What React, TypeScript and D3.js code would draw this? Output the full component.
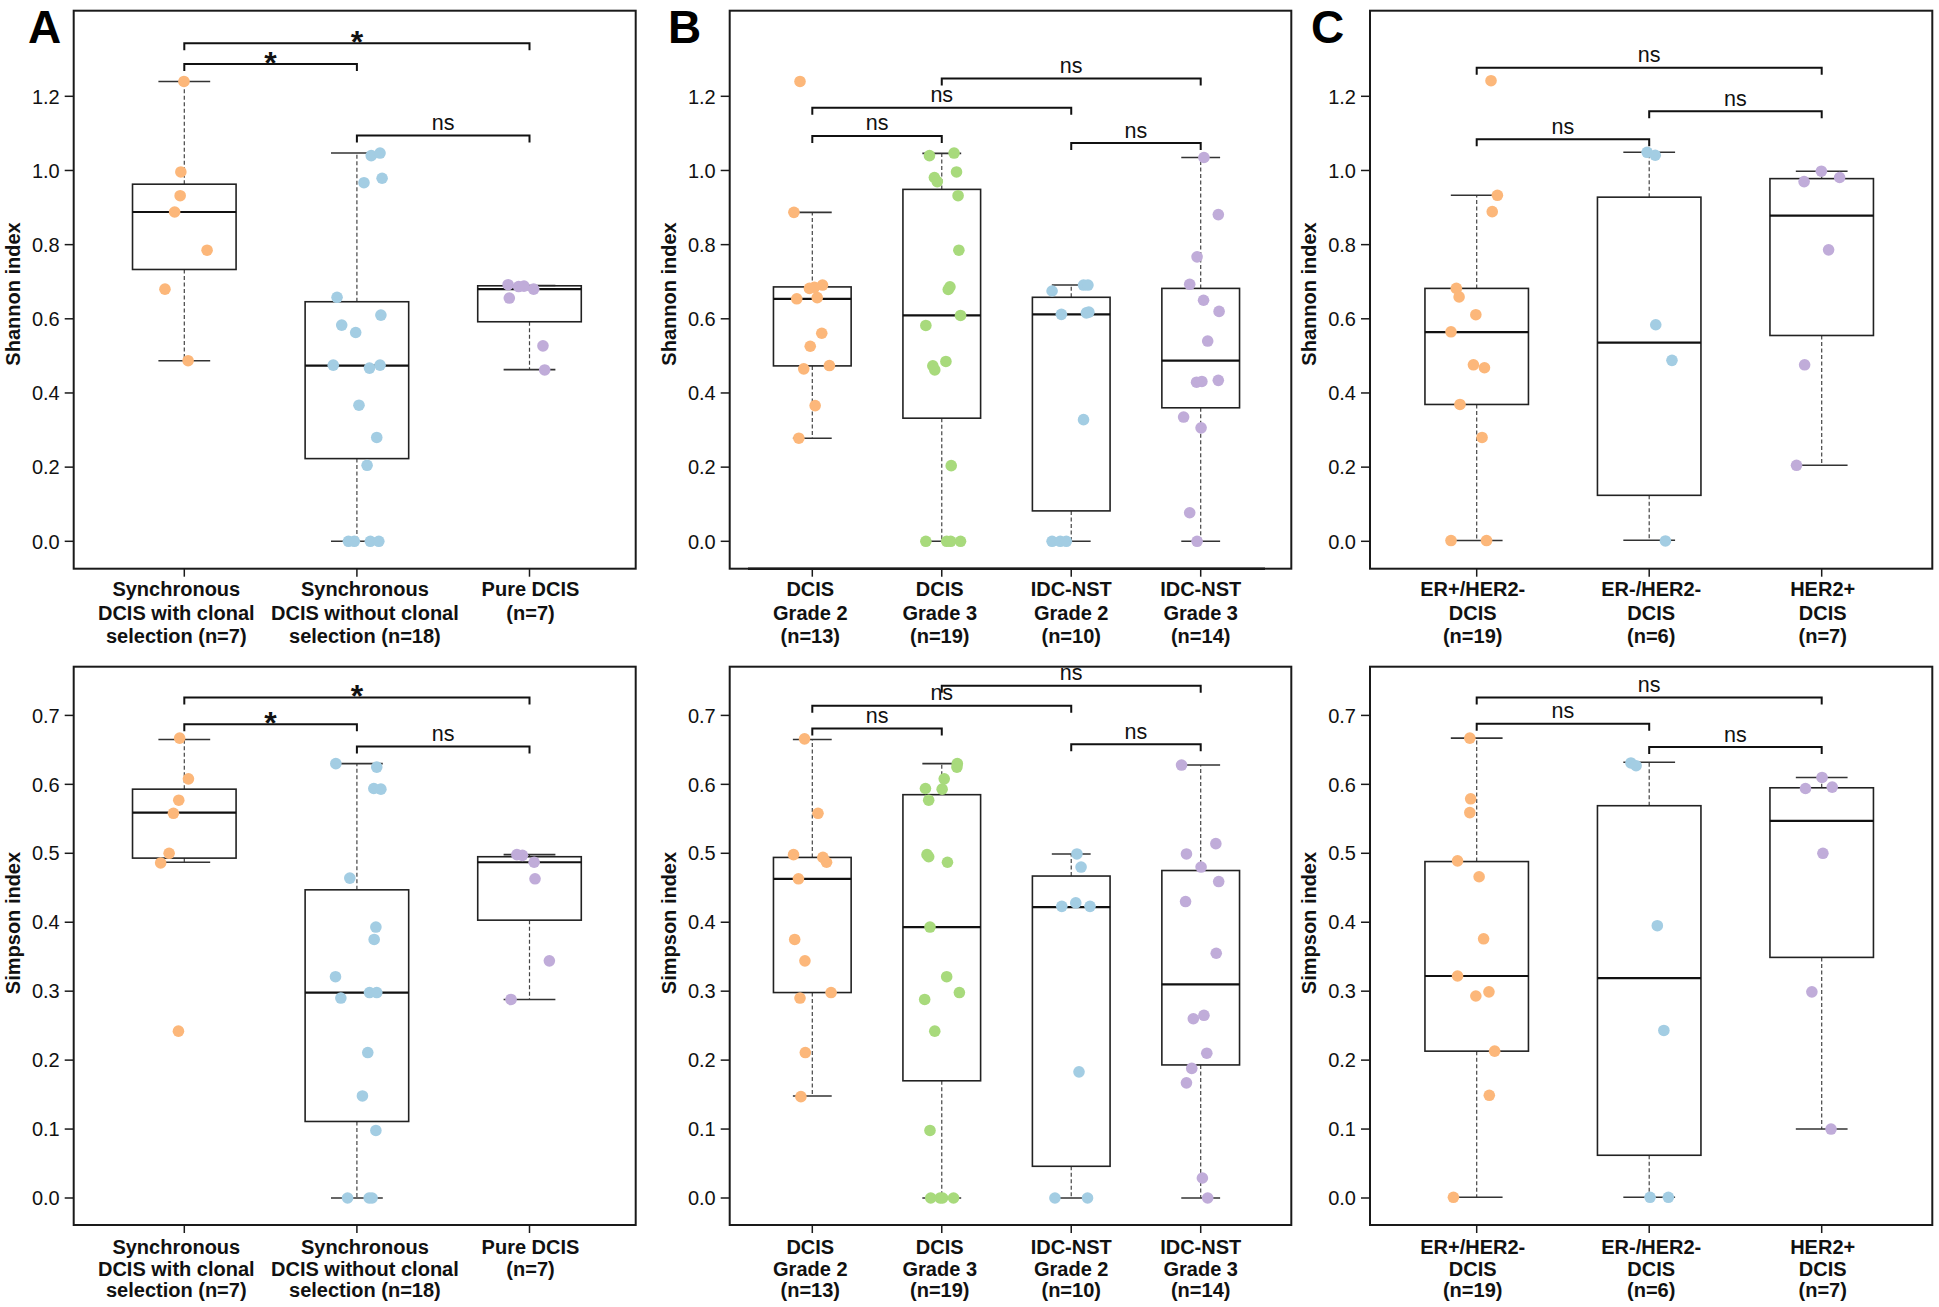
import React from 'react';
import * as d3 from 'd3';

// ---------- colours ----------
const ORANGE = '#FCB77A';
const BLUE = '#A3CDE3';
const GREEN = '#A8DA7C';
const PURPLE = '#C0ACD9';

// ---------- category labels ----------
const labelsA = [
  ['Synchronous', 'DCIS with clonal', 'selection (n=7)'],
  ['Synchronous', 'DCIS without clonal', 'selection (n=18)'],
  ['Pure DCIS', '(n=7)'],
];
const labelsB = [
  ['DCIS', 'Grade 2', '(n=13)'],
  ['DCIS', 'Grade 3', '(n=19)'],
  ['IDC-NST', 'Grade 2', '(n=10)'],
  ['IDC-NST', 'Grade 3', '(n=14)'],
];
const labelsC = [
  ['ER+/HER2-', 'DCIS', '(n=19)'],
  ['ER-/HER2-', 'DCIS', '(n=6)'],
  ['HER2+', 'DCIS', '(n=7)'],
];
const colorsA = [ORANGE, BLUE, PURPLE];
const colorsB = [ORANGE, GREEN, BLUE, PURPLE];
const colorsC = [ORANGE, BLUE, PURPLE];

const shannonTicks = [0, 0.2, 0.4, 0.6, 0.8, 1.0, 1.2];
const simpsonTicks = [0, 0.1, 0.2, 0.3, 0.4, 0.5, 0.6, 0.7];

// ---------- Shannon index: points (value) and horizontal jitter (category units) ----------
const shA1 = [1.240, 0.996, 0.932, 0.888, 0.785, 0.680, 0.487];
const shA1j = [-0.002, -0.02, -0.024, -0.056, 0.132, -0.112, 0.022];
const shA2 = [1.040, 1.047, 0.967, 0.979, 0.658, 0.610, 0.583, 0.563, 0.475, 0.467, 0.475, 0.367, 0.280, 0.205, 0, 0, 0, 0];
const shA2j = [0.083, 0.134, 0.041, 0.146, -0.115, 0.139, -0.088, -0.007, -0.137, 0.073, 0.134, 0.012, 0.115, 0.059, -0.049, -0.015, 0.078, 0.127];
const shA3 = [0.692, 0.688, 0.687, 0.680, 0.656, 0.527, 0.462];
const shA3j = [-0.124, -0.032, -0.063, 0.024, -0.117, 0.078, 0.088];

const shB1 = [1.240, 0.887, 0.691, 0.685, 0.682, 0.654, 0.657, 0.561, 0.526, 0.465, 0.474, 0.366, 0.278];
const shB1j = [-0.095, -0.142, 0.079, 0.016, -0.022, -0.120, 0.038, 0.073, -0.016, -0.066, 0.132, 0.022, -0.104];
const shB2 = [1.040, 1.047, 0.981, 0.970, 0.996, 0.932, 0.785, 0.686, 0.679, 0.609, 0.582, 0.485, 0.473, 0.462, 0.204, 0, 0, 0, 0];
const shB2j = [-0.095, 0.095, -0.057, -0.035, 0.114, 0.126, 0.132, 0.063, 0.050, 0.145, -0.123, 0.032, -0.069, -0.054, 0.073, -0.123, 0.038, 0.069, 0.145];
const shB3 = [0.675, 0.691, 0.691, 0.612, 0.616, 0.618, 0.328, 0, 0, 0];
const shB3j = [-0.148, 0.095, 0.129, -0.076, 0.117, 0.136, 0.095, -0.148, -0.085, -0.038];
const shB4 = [1.035, 0.881, 0.767, 0.693, 0.650, 0.620, 0.540, 0.429, 0.431, 0.434, 0.335, 0.306, 0.077, 0];
const shB4j = [0.025, 0.136, -0.028, -0.085, 0.022, 0.142, 0.054, -0.032, 0.009, 0.136, -0.132, 0.003, -0.085, -0.028];

const shC1 = [1.242, 0.933, 0.889, 0.682, 0.659, 0.611, 0.565, 0.476, 0.468, 0.369, 0.280, 0.002, 0.002];
const shC1j = [0.083, 0.120, 0.090, -0.118, -0.102, -0.005, -0.149, -0.019, 0.045, -0.097, 0.031, -0.149, 0.057];
const shC2 = [1.049, 1.041, 0.584, 0.488, 0.001];
const shC2j = [-0.012, 0.035, 0.038, 0.132, 0.094];
const shC3 = [0.998, 0.970, 0.981, 0.786, 0.476, 0.205];
const shC3j = [-0.002, -0.102, 0.104, 0.040, -0.099, -0.146];

// ---------- Simpson index ----------
const siA1 = [0.667, 0.608, 0.577, 0.558, 0.500, 0.486, 0.242];
const siA1j = [-0.027, 0.024, -0.032, -0.063, -0.088, -0.137, -0.034];
const siA2 = [0.630, 0.625, 0.594, 0.593, 0.464, 0.393, 0.375, 0.321, 0.290, 0.298, 0.298, 0.211, 0.148, 0.098, 0, 0, 0];
const siA2j = [-0.122, 0.115, 0.098, 0.139, -0.041, 0.110, 0.100, -0.124, -0.093, 0.073, 0.115, 0.063, 0.032, 0.110, -0.054, 0.071, 0.088];
const siA3 = [0.498, 0.497, 0.487, 0.463, 0.344, 0.288];
const siA3j = [-0.073, -0.041, 0.027, 0.032, 0.115, -0.107];

const siB1 = [0.666, 0.558, 0.498, 0.494, 0.487, 0.463, 0.375, 0.344, 0.290, 0.298, 0.211, 0.147];
const siB1j = [-0.060, 0.044, -0.145, 0.082, 0.110, -0.107, -0.136, -0.057, -0.095, 0.145, -0.054, -0.088];
const siB2 = [0.630, 0.625, 0.608, 0.594, 0.593, 0.577, 0.498, 0.495, 0.487, 0.393, 0.321, 0.298, 0.288, 0.242, 0.098, 0, 0, 0, 0];
const siB2j = [0.120, 0.117, 0.019, -0.126, 0.003, -0.101, -0.114, -0.101, 0.044, -0.091, 0.038, 0.136, -0.132, -0.054, -0.091, -0.085, -0.013, 0.006, 0.091];
const siB3 = [0.499, 0.480, 0.423, 0.428, 0.423, 0.183, 0, 0];
const siB3j = [0.044, 0.076, -0.073, 0.035, 0.145, 0.060, -0.126, 0.126];
const siB4 = [0.628, 0.514, 0.499, 0.480, 0.459, 0.430, 0.355, 0.260, 0.265, 0.210, 0.188, 0.167, 0.029, 0];
const siB4j = [-0.148, 0.117, -0.110, 0.003, 0.139, -0.117, 0.120, -0.057, 0.025, 0.047, -0.069, -0.110, 0.013, 0.054];

const siC1 = [0.667, 0.579, 0.559, 0.489, 0.466, 0.376, 0.322, 0.293, 0.299, 0.213, 0.149, 0.001];
const siC1j = [-0.040, -0.035, -0.040, -0.111, 0.014, 0.040, -0.111, -0.005, 0.071, 0.104, 0.073, -0.135];
const siC2 = [0.631, 0.627, 0.395, 0.243, 0.001, 0.001];
const siC2j = [-0.106, -0.076, 0.047, 0.085, 0.005, 0.111];
const siC3 = [0.610, 0.594, 0.596, 0.500, 0.299, 0.100];
const siC3j = [0.002, -0.094, 0.061, 0.007, -0.057, 0.054];

// ---------- box statistics [whiskerLow, Q1, median, Q3, whiskerHigh] ----------
const shBoxA = [[0.487, 0.733, 0.888, 0.963, 1.240], [0, 0.223, 0.474, 0.646, 1.047], [0.463, 0.592, 0.680, 0.689, 0.690]];
const shBoxB = [[0.278, 0.473, 0.654, 0.686, 0.887], [0, 0.332, 0.609, 0.949, 1.046], [0, 0.082, 0.612, 0.658, 0.691], [0, 0.360, 0.487, 0.682, 1.035]];
const shBoxC = [[0.002, 0.369, 0.564, 0.682, 0.933], [0.003, 0.124, 0.536, 0.928, 1.049], [0.205, 0.555, 0.878, 0.978, 0.998]];
const siBoxA = [[0.487, 0.493, 0.559, 0.593, 0.665], [0, 0.111, 0.298, 0.447, 0.630], [0.288, 0.403, 0.487, 0.495, 0.498]];
const siBoxB = [[0.148, 0.298, 0.463, 0.494, 0.665], [0, 0.170, 0.393, 0.585, 0.630], [0, 0.046, 0.422, 0.467, 0.499], [0, 0.193, 0.310, 0.475, 0.628]];
const siBoxC = [[0.001, 0.213, 0.322, 0.488, 0.667], [0.001, 0.062, 0.319, 0.569, 0.632], [0.100, 0.349, 0.547, 0.595, 0.610]];

// ---------- significance brackets [groupFrom, groupTo, yValue, label] ----------
const shBrA = [[1, 3, 1.343, '*'], [1, 2, 1.287, '*'], [2, 3, 1.094, 'ns']];
const shBrB = [[2, 4, 1.248, 'ns'], [1, 3, 1.169, 'ns'], [1, 2, 1.093, 'ns'], [3, 4, 1.074, 'ns']];
const shBrC = [[1, 3, 1.277, 'ns'], [2, 3, 1.160, 'ns'], [1, 2, 1.084, 'ns']];
const siBrA = [[1, 3, 0.726, '*'], [1, 2, 0.687, '*'], [2, 3, 0.655, 'ns']];
const siBrB = [[2, 4, 0.743, 'ns'], [1, 3, 0.714, 'ns'], [1, 2, 0.681, 'ns'], [3, 4, 0.658, 'ns']];
const siBrC = [[1, 3, 0.726, 'ns'], [1, 2, 0.688, 'ns'], [2, 3, 0.654, 'ns']];

// ---------- layout ----------
const COLS = [
  { frameL: 73.7, frameR: 635.7, g1: 184.3, gN: 529.5, letter: 'A', letterX: 28, labelDx: [-8, 8, 1] },
  { frameL: 729.7, frameR: 1291.3, g1: 812.3, gN: 1200.7, letter: 'B', letterX: 668, labelDx: [-2, -2, 0, 0] },
  { frameL: 1370, frameR: 1932.3, g1: 1476.7, gN: 1821.7, letter: 'C', letterX: 1311, labelDx: [-4, 2, 1] },
];
const ROWS = [
  { top: 10.7, bottom: 568.7, y0: 541.3, yMax: 96.3, vMax: 1.2, ticks: shannonTicks, title: 'Shannon index', titleY: 294, lineBase: [596, 619.5, 643], showLetter: true },
  { top: 666.7, bottom: 1225, y0: 1198, yMax: 715.4, vMax: 0.7, ticks: simpsonTicks, title: 'Simpson index', titleY: 923, lineBase: [1254, 1275.5, 1297], showLetter: false },
];

const FONT = 'Liberation Sans, Arial, Helvetica, sans-serif';
const INK = '#1a1a1a';

type PanelDef = {
  col: number; row: number; labels: string[][]; colors: string[];
  points: number[][]; jitter: number[][]; boxes: number[][]; brackets: any[]; axisLine?: [number, number];
};

const panels: PanelDef[] = [
  { col: 0, row: 0, labels: labelsA, colors: colorsA, points: [shA1, shA2, shA3], jitter: [shA1j, shA2j, shA3j], boxes: shBoxA, brackets: shBrA },
  { col: 1, row: 0, labels: labelsB, colors: colorsB, points: [shB1, shB2, shB3, shB4], jitter: [shB1j, shB2j, shB3j, shB4j], boxes: shBoxB, brackets: shBrB, axisLine: [748, 1265] },
  { col: 2, row: 0, labels: labelsC, colors: colorsC, points: [shC1, shC2, shC3], jitter: [shC1j, shC2j, shC3j], boxes: shBoxC, brackets: shBrC },
  { col: 0, row: 1, labels: labelsA, colors: colorsA, points: [siA1, siA2, siA3], jitter: [siA1j, siA2j, siA3j], boxes: siBoxA, brackets: siBrA },
  { col: 1, row: 1, labels: labelsB, colors: colorsB, points: [siB1, siB2, siB3, siB4], jitter: [siB1j, siB2j, siB3j, siB4j], boxes: siBoxB, brackets: siBrB },
  { col: 2, row: 1, labels: labelsC, colors: colorsC, points: [siC1, siC2, siC3], jitter: [siC1j, siC2j, siC3j], boxes: siBoxC, brackets: siBrC },
];

function Panel({ def }: { def: PanelDef }) {
  const c = COLS[def.col];
  const r = ROWS[def.row];
  const n = def.labels.length;
  const x = d3.scaleLinear().domain([1, n]).range([c.g1, c.gN]);
  const unit = (c.gN - c.g1) / (n - 1);
  const y = d3.scaleLinear().domain([0, r.vMax]).range([r.y0, r.yMax]);
  const boxW = 0.6 * unit;
  const capW = 0.3 * unit;

  return (
    <g>
      {/* frame */}
      <rect x={c.frameL} y={r.top} width={c.frameR - c.frameL} height={r.bottom - r.top} fill="none" stroke={INK} strokeWidth={2} />
      {def.axisLine && (
        <line x1={def.axisLine[0]} x2={def.axisLine[1]} y1={r.bottom} y2={r.bottom} stroke={INK} strokeWidth={2.6} />
      )}
      {/* y ticks */}
      {r.ticks.map((t) => (
        <g key={'yt' + t}>
          <line x1={c.frameL - 9} x2={c.frameL} y1={y(t)} y2={y(t)} stroke={INK} strokeWidth={1.5} />
          <text x={c.frameL - 14} y={y(t) + 7.2} textAnchor="end" fontSize={20} fill="#111">{d3.format('.1f')(t)}</text>
        </g>
      ))}
      {/* y title */}
      <text transform={`translate(${c.frameL - 61},${r.titleY}) rotate(-90)`} textAnchor="middle" dominantBaseline="central" fontSize={20} fontWeight="bold" fill="#111">{r.title}</text>
      {/* x ticks and labels */}
      {def.labels.map((lines, i) => (
        <g key={'xl' + i}>
          <line x1={x(i + 1)} x2={x(i + 1)} y1={r.bottom} y2={r.bottom + 8} stroke={INK} strokeWidth={1.5} />
          {lines.map((ln, k) => (
            <text key={k} x={x(i + 1) + c.labelDx[i]} y={r.lineBase[k]} textAnchor="middle" fontSize={20} fontWeight="bold" fill="#111">{ln}</text>
          ))}
        </g>
      ))}
      {/* boxes */}
      {def.boxes.map((b, i) => {
        const cx = x(i + 1);
        const [lo, q1, med, q3, hi] = b;
        return (
          <g key={'bx' + i}>
            {hi > q3 && <line x1={cx} x2={cx} y1={y(q3)} y2={y(hi)} stroke="#444" strokeWidth={1.2} strokeDasharray="4,2.5" />}
            {q1 > lo && <line x1={cx} x2={cx} y1={y(q1)} y2={y(lo)} stroke="#444" strokeWidth={1.2} strokeDasharray="4,2.5" />}
            <line x1={cx - capW / 2} x2={cx + capW / 2} y1={y(hi)} y2={y(hi)} stroke="#333" strokeWidth={1.6} />
            <line x1={cx - capW / 2} x2={cx + capW / 2} y1={y(lo)} y2={y(lo)} stroke="#333" strokeWidth={1.6} />
            <rect x={cx - boxW / 2} y={y(q3)} width={boxW} height={y(q1) - y(q3)} fill="none" stroke="#222" strokeWidth={1.6} />
            <line x1={cx - boxW / 2} x2={cx + boxW / 2} y1={y(med)} y2={y(med)} stroke="#111" strokeWidth={2.2} />
          </g>
        );
      })}
      {/* points */}
      {def.points.map((vals, i) =>
        vals.map((v, k) => (
          <circle key={'p' + i + '-' + k} cx={x(i + 1) + def.jitter[i][k] * unit} cy={y(v)} r={5.8} fill={def.colors[i]} />
        ))
      )}
      {/* brackets */}
      {def.brackets.map((br, k) => {
        const [a, b, v, label] = br;
        const yy = y(v);
        const xa = x(a), xb = x(b);
        const mid = (xa + xb) / 2;
        return (
          <g key={'br' + k}>
            <path d={`M${xa},${yy + 7}V${yy}H${xb}V${yy + 7}`} fill="none" stroke="#111" strokeWidth={2} />
            {label === '*' ? (
              <text x={mid} y={yy + 10} textAnchor="middle" fontSize={32} fontWeight="bold" fill="#111">*</text>
            ) : (
              <text x={mid} y={yy - 5.5} textAnchor="middle" fontSize={21.5} fill="#111">{label}</text>
            )}
          </g>
        );
      })}
      {/* panel letter */}
      {r.showLetter && (
        <text x={c.letterX} y={43} fontSize={46} fontWeight="bold" fill="#000">{c.letter}</text>
      )}
    </g>
  );
}

export default function App() {
  return (
    <svg width={1939} height={1307} style={{ position: 'absolute', left: 0, top: 0, background: '#fff' }} fontFamily={FONT}>
      <rect x={0} y={0} width={1939} height={1307} fill="#fff" />
      {panels.map((p, i) => (
        <Panel key={i} def={p} />
      ))}
    </svg>
  );
}
